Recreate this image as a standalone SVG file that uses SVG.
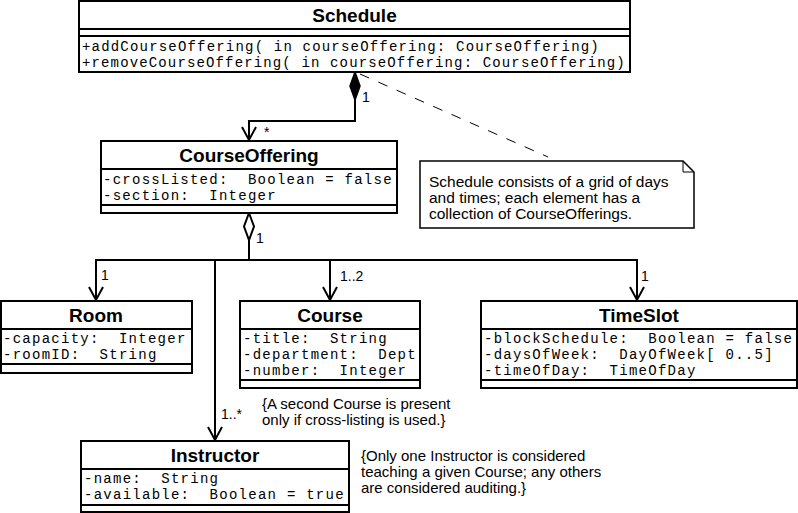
<svg xmlns="http://www.w3.org/2000/svg" width="798" height="513" viewBox="0 0 798 513">
<style>
.box{fill:#fff;stroke:#000;stroke-width:2}
.sep{stroke:#000;stroke-width:2}
.title{font-family:"Liberation Sans",Arial,sans-serif;font-weight:bold;font-size:19px;text-anchor:middle;fill:#000}
.attr{font-family:"Liberation Mono","Courier New",monospace;font-size:14px;letter-spacing:1.26px;fill:#000;white-space:pre}
.lbl{font-family:"Liberation Sans",Arial,sans-serif;font-size:14px;fill:#000}
.note{font-family:"Liberation Sans",Arial,sans-serif;font-size:15.5px;fill:#000}
.cons{font-family:"Liberation Sans",Arial,sans-serif;font-size:15px;fill:#000}
.line{fill:none;stroke:#000;stroke-width:2}
.arrow{fill:none;stroke:#000;stroke-width:2}
</style>
<rect width="798" height="513" fill="#fff"/>
<g id="connectors">
  <path class="line" d="M355,100 V121 H249 V140"/>
  <polygon points="355,72 360,86 355,100 350,86" fill="#000" stroke="#000" stroke-width="1.5"/>
  <polyline class="arrow" points="242,127 249,140 256,127"/>
  <path class="line" d="M249,240 V260"/>
  <polygon points="249,213 254,226.5 249,240 244,226.5" fill="#fff" stroke="#000" stroke-width="2"/>
  <path class="line" d="M96,300 V260 H637 V300"/>
  <path class="line" d="M330,260 V300"/>
  <path class="line" d="M215,260 V440"/>
  <polyline class="arrow" points="89,287 96,300 103,287"/>
  <polyline class="arrow" points="323,287 330,300 337,287"/>
  <polyline class="arrow" points="630,287 637,300 644,287"/>
  <polyline class="arrow" points="208,427 215,440 222,427"/>
  <line x1="360" y1="74" x2="548" y2="157" stroke="#000" stroke-width="1" stroke-dasharray="10,10"/>
  <text class="lbl" x="362" y="102">1</text>
  <text class="lbl" x="264" y="137">*</text>
  <text class="lbl" x="256" y="243">1</text>
  <text class="lbl" x="101" y="280">1</text>
  <text class="lbl" x="340" y="281">1..2</text>
  <text class="lbl" x="641" y="281">1</text>
  <text class="lbl" x="221" y="419">1..*</text>
</g>
<g id="Schedule">
  <rect class="box" x="79" y="1" width="551" height="71"/>
  <line class="sep" x1="79" y1="29" x2="630" y2="29"/>
  <line class="sep" x1="79" y1="36" x2="630" y2="36"/>
  <text class="title" x="354.5" y="22">Schedule</text>
  <text class="attr" x="82" y="51" textLength="518" lengthAdjust="spacing">+addCourseOffering( in courseOffering: CourseOffering)</text>
  <text class="attr" x="82" y="67" textLength="544" lengthAdjust="spacing">+removeCourseOffering( in courseOffering: CourseOffering)</text>
</g>
<g id="CourseOffering">
  <rect class="box" x="101" y="141" width="296" height="72"/>
  <line class="sep" x1="101" y1="169" x2="397" y2="169"/>
  <line class="sep" x1="101" y1="205" x2="397" y2="205"/>
  <text class="title" x="249" y="162">CourseOffering</text>
  <text class="attr" x="103" y="184">-crossListed:  Boolean = false</text>
  <text class="attr" x="103" y="200">-section:  Integer</text>
</g>
<g id="Note">
  <path d="M420,161 H683 L694,172 V228 H420 Z" fill="#fff" stroke="#000" stroke-width="1.5"/>
  <path d="M683,161 V172 H694" fill="none" stroke="#000" stroke-width="1"/>
  <text class="note" x="429" y="187">Schedule consists of a grid of days</text>
  <text class="note" x="429" y="203">and times; each element has a</text>
  <text class="note" x="429" y="219">collection of CourseOfferings.</text>
</g>
<g id="Room">
  <rect class="box" x="1" y="301" width="191" height="72"/>
  <line class="sep" x1="1" y1="329" x2="192" y2="329"/>
  <line class="sep" x1="1" y1="364" x2="192" y2="364"/>
  <text class="title" x="96" y="322">Room</text>
  <text class="attr" x="3" y="343">-capacity:  Integer</text>
  <text class="attr" x="3" y="359">-roomID:  String</text>
</g>
<g id="Course">
  <rect class="box" x="240" y="301" width="180" height="87"/>
  <line class="sep" x1="240" y1="329" x2="420" y2="329"/>
  <line class="sep" x1="240" y1="380" x2="420" y2="380"/>
  <text class="title" x="330" y="322">Course</text>
  <text class="attr" x="243" y="343">-title:  String</text>
  <text class="attr" x="243" y="359">-department:  Dept</text>
  <text class="attr" x="243" y="375">-number:  Integer</text>
</g>
<g id="TimeSlot">
  <rect class="box" x="481" y="301" width="316" height="87"/>
  <line class="sep" x1="481" y1="329" x2="797" y2="329"/>
  <line class="sep" x1="481" y1="380" x2="797" y2="380"/>
  <text class="title" x="639" y="322">TimeSlot</text>
  <text class="attr" x="484" y="343">-blockSchedule:  Boolean = false</text>
  <text class="attr" x="484" y="359">-daysOfWeek:  DayOfWeek[ 0..5]</text>
  <text class="attr" x="484" y="375">-timeOfDay:  TimeOfDay</text>
</g>
<g id="Instructor">
  <rect class="box" x="81" y="441" width="268" height="71"/>
  <line class="sep" x1="81" y1="469" x2="349" y2="469"/>
  <line class="sep" x1="81" y1="505" x2="349" y2="505"/>
  <text class="title" x="215" y="462">Instructor</text>
  <text class="attr" x="84" y="483">-name:  String</text>
  <text class="attr" x="84" y="499">-available:  Boolean = true</text>
</g>
<g id="Constraints">
  <text class="cons" x="262" y="409">{A second Course is present</text>
  <text class="cons" x="262" y="425">only if cross-listing is used.}</text>
  <text class="cons" x="361" y="461">{Only one Instructor is considered</text>
  <text class="cons" x="361" y="477">teaching a given Course; any others</text>
  <text class="cons" x="361" y="493">are considered auditing.}</text>
</g>
</svg>
